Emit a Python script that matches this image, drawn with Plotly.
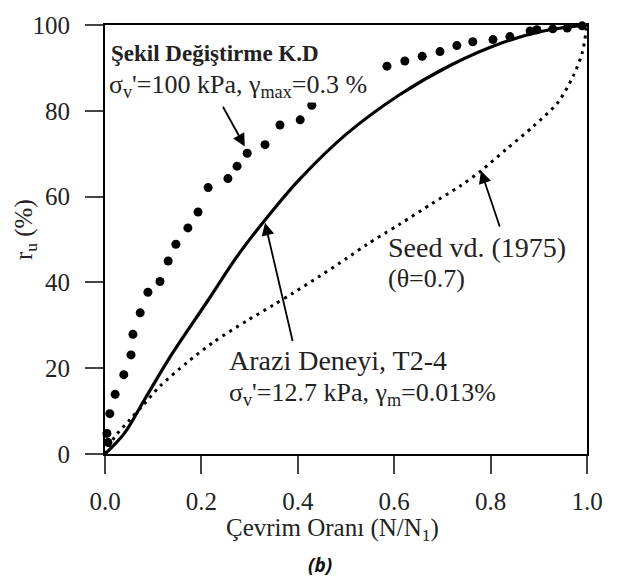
import plotly.graph_objects as go

# Arazi Deneyi, T2-4 (solid)
field_x = [0.0, 0.04, 0.08, 0.14, 0.21, 0.28, 0.357, 0.405, 0.5, 0.612, 0.72, 0.82, 0.91, 1.0]
field_y = [0.0, 4.8, 12.3, 23.5, 35.2, 47.0, 58.0, 64.2, 74.5, 83.8, 90.8, 95.7, 98.6, 100.0]

# Şekil Değiştirme K.D (large dots)
strain_x = [0.006, 0.004, 0.01, 0.021, 0.039, 0.054, 0.058, 0.073, 0.089, 0.114, 0.131, 0.147,
            0.172, 0.193, 0.214, 0.255, 0.274, 0.295, 0.332, 0.363, 0.405, 0.429,
            0.585, 0.622, 0.658, 0.695, 0.730, 0.763, 0.805, 0.840, 0.882, 0.896, 0.929, 0.959, 0.99]
strain_y = [2.7, 4.8, 9.4, 13.9, 18.5, 23.1, 27.9, 32.9, 37.7, 40.2, 45.0, 48.9,
            52.7, 56.4, 62.1, 64.2, 67.1, 70.1, 72.1, 76.7, 77.9, 81.3,
            90.4, 91.6, 92.7, 93.8, 95.2, 96.1, 96.6, 97.3, 98.6, 98.9, 99.1, 99.3, 99.8]

# Seed vd. (1975) (dotted)
seed_x = [0.0, 0.02, 0.05, 0.08, 0.114, 0.17, 0.224, 0.295, 0.349, 0.39, 0.446, 0.5, 0.544,
          0.612, 0.68, 0.737, 0.78, 0.834, 0.888, 0.94, 0.971, 0.99, 1.0]
seed_y = [0.0, 4.0, 7.8, 11.5, 15.8, 21.3, 26.0, 31.1, 34.7, 37.5, 41.5, 45.5, 48.9,
          53.6, 58.5, 62.5, 66.0, 71.2, 76.3, 82.0, 88.0, 93.5, 100.0]

x_ticks = [0.0, 0.2, 0.4, 0.6, 0.8, 1.0]
x_tick_labels = ["0.0", "0.2", "0.4", "0.6", "0.8", "1.0"]
y_ticks = [0, 20, 40, 60, 80, 100]

SERIF = "Liberation Serif"
fig = go.Figure()
fig.add_trace(go.Scatter(x=seed_x, y=seed_y, mode="lines",
                         line=dict(color="black", width=3, dash="3px,5px", shape="spline", smoothing=0.8),
                         cliponaxis=False, showlegend=False))
fig.add_trace(go.Scatter(x=field_x, y=field_y, mode="lines", line=dict(color="black", width=3.2, shape="spline"),
                         cliponaxis=False, showlegend=False))
fig.add_trace(go.Scatter(x=strain_x, y=strain_y, mode="markers", marker=dict(color="black", size=9),
                         cliponaxis=False, showlegend=False))

tf = dict(family=SERIF, size=25, color="#222")
fig.update_xaxes(range=[0, 1], tickvals=x_ticks, ticktext=x_tick_labels, ticks="outside", ticklen=18, tickwidth=2,
                 showline=True, linecolor="black", linewidth=2, mirror=True, showgrid=False, zeroline=False,
                 tickfont=tf, ticklabelstandoff=6)
fig.update_yaxes(range=[0, 100], tickvals=y_ticks, ticks="outside", ticklen=18, tickwidth=2,
                 showline=True, linecolor="black", linewidth=2, mirror=True, showgrid=False, zeroline=False,
                 tickfont=tf, ticklabelstandoff=10)

ann = []
def txt(x, y, t, size=21, bold=False):
    ann.append(dict(x=x, y=y, xref="x", yref="y", text=("<b>%s</b>" % t) if bold else t, showarrow=False,
                    xanchor="left", yanchor="middle", font=dict(family=SERIF, size=size, color="#222"),
                    bgcolor="white", borderpad=0))

txt(0.0104, 93.4, "Şekil Değiştirme K.D", size=23, bold=True)
txt(0.006, 85.8, "σ<sub>v</sub>'=100 kPa, γ<sub>max</sub>=0.3 %", size=26)
txt(0.585, 48.2, "Seed vd. (1975)", size=28)
txt(0.585, 40.9, "(θ=0.7)", size=26)
txt(0.255, 21.9, "Arazi Deneyi, T2-4", size=28)
txt(0.255, 13.9, "σ<sub>v</sub>'=12.7 kPa, γ<sub>m</sub>=0.013%", size=26)

def arrow(x0, y0, x1, y1):
    ann.append(dict(x=x1, y=y1, ax=x0, ay=y0, xref="x", yref="y", axref="x", ayref="y", text="",
                    showarrow=True, arrowhead=2, arrowsize=1.4, arrowwidth=1.8, arrowcolor="black"))

arrow(0.243, 81.3, 0.29, 71.7)
arrow(0.39, 26.0, 0.332, 53.9)
arrow(0.82, 52.7, 0.78, 66.0)

ann.append(dict(x=0.471, y=-0.176, xref="paper", yref="paper", text="Çevrim Oranı (N/N<sub>1</sub>)", showarrow=False,
                xanchor="center", yanchor="middle", font=dict(family=SERIF, size=25, color="#222")))
ann.append(dict(x=-0.165, y=0.523, xref="paper", yref="paper", text="r<sub>u</sub> (%)", showarrow=False,
                textangle=-90, xanchor="center", yanchor="middle", font=dict(family=SERIF, size=25, color="#222")))
ann.append(dict(x=0.446, y=-0.258, xref="paper", yref="paper", text="<b><i>(b)</i></b>", showarrow=False,
                xanchor="center", yanchor="middle", font=dict(family="Open Sans", size=19, color="#111")))

fig.update_layout(width=619, height=584, margin=dict(l=105, r=32, t=16, b=130), plot_bgcolor="white",
                  paper_bgcolor="white", annotations=ann)
fig.write_html("out.html")
